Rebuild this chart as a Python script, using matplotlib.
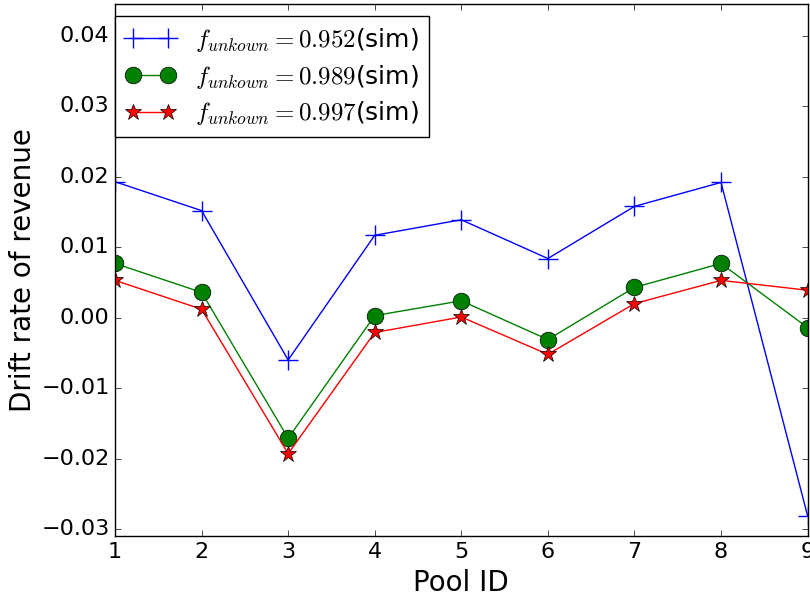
#!/usr/bin/env python3
# -*- coding: utf-8 -*-

import matplotlib
matplotlib.use("Agg")
import matplotlib.pyplot as plt

pool_id = [1, 2, 3, 4, 5, 6, 7, 8, 9]
drift_952 = [0.0193, 0.0152, -0.0060, 0.0117, 0.0139, 0.0084, 0.0158, 0.0192, -0.0281]
drift_989 = [0.0077, 0.0036, -0.0171, 0.0003, 0.0024, -0.0031, 0.0043, 0.0077, -0.0014]
drift_997 = [0.0053, 0.0012, -0.0193, -0.0021, 0.0001, -0.0052, 0.0020, 0.0053, 0.0039]
labels = [r'$f_{unkown}=0.952$(sim)', r'$f_{unkown}=0.989$(sim)', r'$f_{unkown}=0.997$(sim)']

plt.style.use('classic')

fig = plt.figure(figsize=(8.1, 5.99), dpi=100)
axes = fig.add_axes([0.142, 0.105, 0.855, 0.888])

axes.plot(pool_id, drift_952, 'b+-', markersize=15, markeredgewidth=1, label=labels[0])
axes.plot(pool_id, drift_989, 'go-', markersize=12, label=labels[1])
axes.plot(pool_id, drift_997, 'r*-', markersize=12, label=labels[2])

axes.set_xlim(1, 9)
axes.set_ylim(-0.031, 0.0445)
axes.set_yticks([-0.03, -0.02, -0.01, 0.00, 0.01, 0.02, 0.03, 0.04])
axes.tick_params(labelsize=16)
axes.set_xlabel("Pool ID", fontsize=20)
axes.set_ylabel("Drift rate of revenue", fontsize=20, labelpad=3)
axes.legend(loc='upper left', fontsize=18, labelspacing=0.35,
            bbox_to_anchor=(0, 0.978), borderaxespad=0)

plt.savefig("out.png", dpi=100)
